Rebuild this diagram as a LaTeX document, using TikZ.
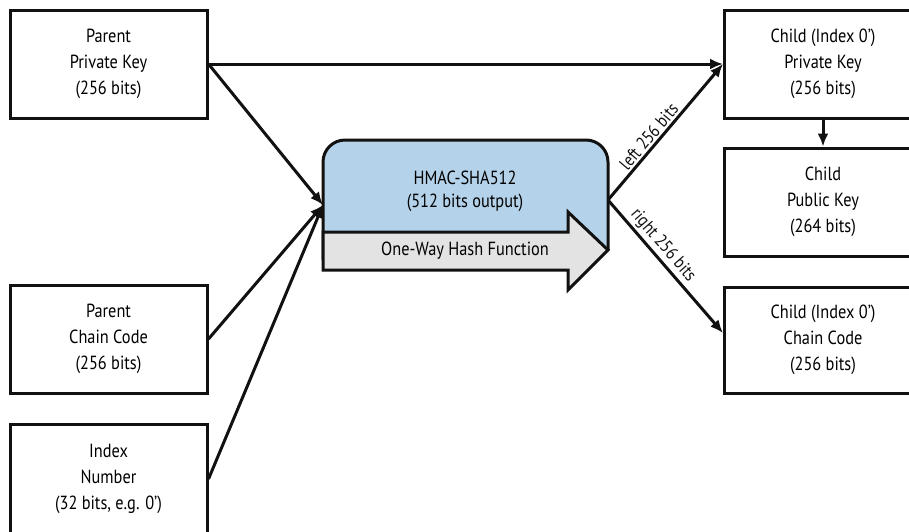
\documentclass[tikz,border=0pt]{standalone}
\usepackage{fontspec}
\setmainfont{PT Sans}[FakeStretch=0.86]
\usetikzlibrary{arrows.meta,positioning,calc}
\definecolor{hashblue}{HTML}{B4D3EA}
\definecolor{hashgray}{HTML}{E3E3E3}
\definecolor{ink}{HTML}{111111}
\tikzset{
  keybox/.style={draw=ink,line width=3pt,minimum width=197pt,minimum height=108pt,
    align=center,inner sep=0pt,font=\fontsize{19}{26}\selectfont},
  flow/.style={ink,line width=3pt,-{Latex[length=13pt,width=11pt]}},
  bitlabel/.style={font=\fontsize{18}{20}\selectfont,sloped,above,inner sep=2pt},
}

\begin{document}
\begin{tikzpicture}[x=1pt,y=-1pt]
  \useasboundingbox (0,0) rectangle (909,531);
  \clip (0,0) rectangle (909,531);

  % Parent inputs
  \node[keybox] (ppk) at (108.5,64) {Parent\\Private Key\\(256 bits)};
  \node[keybox] (pcc) at (108.5,339) {Parent\\Chain Code\\(256 bits)};
  \node[keybox,minimum height=110pt] (idx) at (108.5,479) {Index\\Number\\(32 bits, e.g. 0')};

  % Child outputs
  \node[keybox] (cpk) at (823,64) {Child (Index 0')\\Private Key\\(256 bits)};
  \node[keybox] (pub) at (823,202) {Child\\Public Key\\(264 bits)};
  \node[keybox,minimum height=106pt] (ccc) at (823,340) {Child (Index 0')\\Chain Code\\(256 bits)};

  % HMAC block
  \path[fill=hashblue,draw=ink,line width=3pt,rounded corners=22pt]
    (608,250) -- (608,140) -- (323,140) -- (323,260);
  \path[fill=hashgray,draw=ink,line width=3pt,line join=miter]
    (323,232) -- (568,232) -- (568,212) -- (608,250) -- (568,290) -- (568,270) -- (323,270) -- cycle;
  \node[align=center,font=\fontsize{19}{23}\selectfont] (hmac) at (465,191) {HMAC-SHA512\\(512 bits output)};
  \node[font=\fontsize{19}{20}\selectfont] (owhf) at (465,251) {One-Way Hash Function};
  \coordinate (hin) at (323,205);
  \coordinate (hout) at (608,200);

  % Connectors
  \draw[flow] (ppk.east) -- (cpk.west);
  \draw[flow] (ppk.east) -- (hin);
  \draw[flow] (pcc.east) -- (hin);
  \draw[flow] (idx.east) -- (hin);
  \draw[flow] (hout) -- node[bitlabel,pos=0.42] {left 256 bits} (cpk.west);
  \draw[flow] (hout) -- node[bitlabel,pos=0.40] {right 256 bits} ([yshift=7pt]ccc.west);
  \draw[flow] (cpk.south) -- (pub.north);
\end{tikzpicture}
\end{document}
